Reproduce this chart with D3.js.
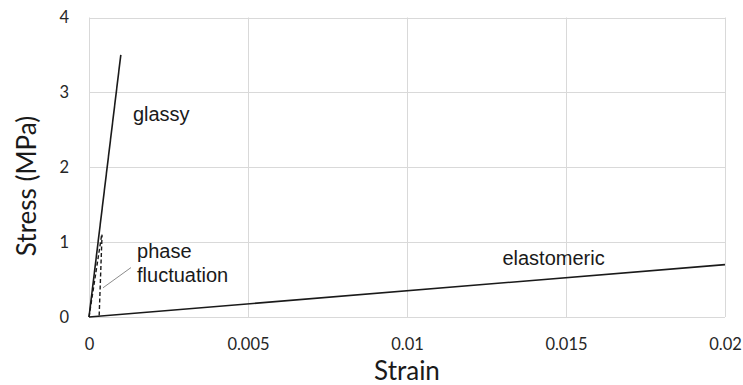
<!DOCTYPE html>
<html>
<head>
<meta charset="utf-8">
<script src="https://cdn.jsdelivr.net/npm/d3@7"></script>
<style>
  body { margin: 0; background: #fff; }
  svg { display: block; }
</style>
</head>
<body>
<svg id="chart" width="743" height="385"></svg>
<script>
// axis ticks
const xTicks = [0, 0.005, 0.01, 0.015, 0.02];
const yTicks = [0, 1, 2, 3, 4];

// curves, strain vs stress (MPa)
const glassyStrain = [0, 0.001];
const glassyStress = [0, 3.5];
const elastoStrain = [0, 0.02];
const elastoStress = [0, 0.7];
// phase fluctuation: two dashed branches
const phaseAStrain = [0, 0.0004];
const phaseAStress = [0, 1.1];
const phaseBStrain = [0.00032, 0.00041];
const phaseBStress = [0.02, 1.1];

// leader line from the label to the dashed curves
const leaderStrain = [0.00044, 0.00132];
const leaderStress = [0.39, 0.66];

// labels, anchored at data coordinates (strain, stress)
const labels = [
  { text: 'glassy', strain: 0.00138, stress: 2.62 },
  { text: 'phase', strain: 0.00151, stress: 0.79 },
  { text: 'fluctuation', strain: 0.00151, stress: 0.47 },
  { text: 'elastomeric', strain: 0.0130, stress: 0.70 }
];

const svg = d3.select('#chart');
const x = d3.scaleLinear().domain([0, 0.02]).range([89, 725]);
const y = d3.scaleLinear().domain([0, 4]).range([317, 17.5]);

const gridColor = '#d9d9d9';
const tickFont = 'Lato, "Open Sans", sans-serif';

// gridlines
svg.append('g').selectAll('line').data(xTicks).join('line')
    .attr('x1', d => Math.round(x(d)) + 0.5).attr('x2', d => Math.round(x(d)) + 0.5)
    .attr('y1', y(0)).attr('y2', y(4))
    .attr('stroke', gridColor).attr('stroke-width', 1);
svg.append('g').selectAll('line').data(yTicks).join('line')
    .attr('x1', x(0)).attr('x2', x(0.02))
    .attr('y1', d => Math.round(y(d)) + 0.5).attr('y2', d => Math.round(y(d)) + 0.5)
    .attr('stroke', gridColor).attr('stroke-width', 1);

// axes (labels only, Excel style)
const xAxis = svg.append('g')
    .attr('transform', `translate(0,${y(0)})`)
    .call(d3.axisBottom(x).tickValues(xTicks).tickSize(0).tickPadding(21)
        .tickFormat(d => String(+d.toFixed(3))));
const yAxis = svg.append('g')
    .attr('transform', `translate(${x(0)},0)`)
    .call(d3.axisLeft(y).tickValues(yTicks).tickSize(0).tickPadding(20)
        .tickFormat(d3.format('d')));
[xAxis, yAxis].forEach(a => {
  a.select('.domain').remove();
  a.selectAll('text')
      .attr('font-family', tickFont)
      .attr('font-size', 16.5)
      .attr('fill', '#262626');
});

// axis titles
svg.append('text')
    .attr('x', (x(0) + x(0.02)) / 2).attr('y', 380)
    .attr('text-anchor', 'middle')
    .attr('font-family', tickFont).attr('font-size', 26)
    .attr('fill', '#1a1a1a')
    .text('Strain');
svg.append('text')
    .attr('transform', 'translate(36,186) rotate(-90)')
    .attr('text-anchor', 'middle')
    .attr('font-family', tickFont).attr('font-size', 26)
    .attr('fill', '#1a1a1a')
    .text('Stress (MPa)');

const line = d3.line().x(d => x(d[0])).y(d => y(d[1]));
const pairs = (xs, ys) => xs.map((v, i) => [v, ys[i]]);

const curves = [
  { pts: pairs(elastoStrain, elastoStress), dash: null, w: 1.6 },
  { pts: pairs(glassyStrain, glassyStress), dash: null, w: 1.6 },
  { pts: pairs(phaseAStrain, phaseAStress), dash: '4,2.5', w: 1.4 },
  { pts: pairs(phaseBStrain, phaseBStress), dash: '4,2.5', w: 1.4 }
];
svg.append('g').selectAll('path').data(curves).join('path')
    .attr('d', d => line(d.pts))
    .attr('fill', 'none')
    .attr('stroke', '#1a1a1a')
    .attr('stroke-width', d => d.w)
    .attr('stroke-dasharray', d => d.dash);

svg.append('path')
    .attr('d', line(pairs(leaderStrain, leaderStress)))
    .attr('fill', 'none')
    .attr('stroke', '#8c8c8c')
    .attr('stroke-width', 1);

svg.append('g').selectAll('text').data(labels).join('text')
    .attr('x', d => x(d.strain)).attr('y', d => y(d.stress))
    .attr('font-family', '"Liberation Sans", Arial, sans-serif')
    .attr('font-size', 20)
    .attr('fill', '#1a1a1a')
    .text(d => d.text);
</script>
</body>
</html>
